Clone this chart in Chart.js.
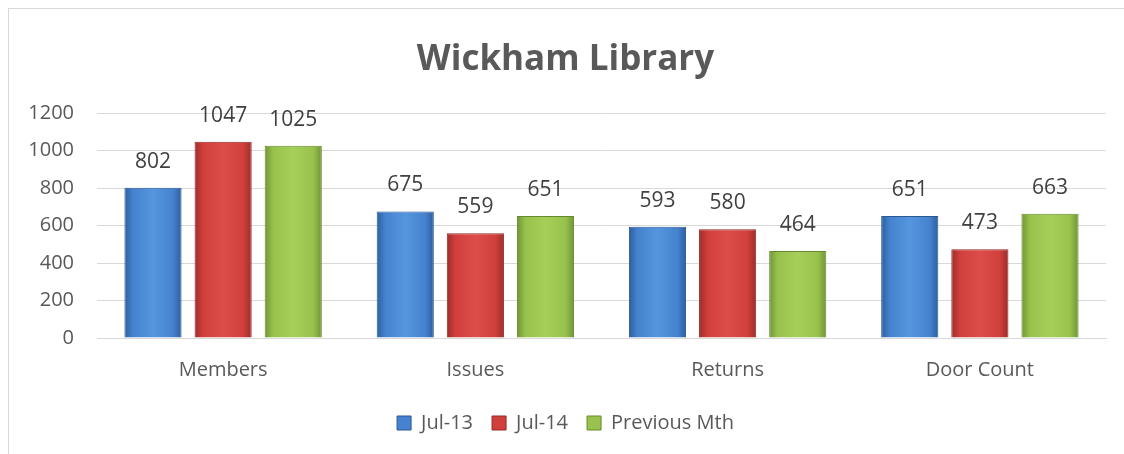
<!DOCTYPE html>
<html>
<head>
<meta charset="utf-8">
<script src="https://cdn.jsdelivr.net/npm/chart.js@4"></script>
<style>
  html, body { margin: 0; padding: 0; background: #fff; }
  #wrap { position: absolute; left: 0; top: 0; width: 1124px; height: 454px; }
  #frame { position: absolute; left: 8px; top: 8px; width: 1116px; height: 446px;
           border-left: 1px solid #d9d9d9; border-top: 1px solid #d9d9d9; }
  canvas { position: absolute; left: 0; top: 0; }
</style>
</head>
<body>
<div id="wrap">
  <div id="frame"></div>
  <canvas id="chart" width="1124" height="454"></canvas>
</div>
<script>
const categories = ['Members', 'Issues', 'Returns', 'Door Count'];
const jul13 = [802, 675, 593, 651];
const jul14 = [1047, 559, 580, 473];
const prevMth = [1025, 651, 464, 663];
const seriesNames = ['Jul-13', 'Jul-14', 'Previous Mth'];

const CAT_PCT = 0.834;
const BAR_PCT = 0.815;
const FONT = '"Open Sans", sans-serif';

const palette = [
    { edge: '#2c5f9e', mid: '#4582cf', light: '#5596de', border: '#2a5892' },
    { edge: '#9c2d2a', mid: '#d03f3b', light: '#dc4d49', border: '#922825' },
    { edge: '#6f9535', mid: '#98c24d', light: '#a6cf5a', border: '#658a2e' }
];

// horizontal shading, worked out from the x scale so each bar gets its own gradient
function barFill(ctx, i) {
    const chart = ctx.chart;
    const xs = chart.scales.x;
    if (!xs || !xs.width || ctx.dataIndex === undefined) return palette[i].mid;
    const slot = xs.width / categories.length * CAT_PCT / 3;
    const w = slot * BAR_PCT;
    const cx = xs.getPixelForValue(ctx.dataIndex) + (i - 1) * slot;
    const g = chart.ctx.createLinearGradient(cx - w / 2, 0, cx + w / 2, 0);
    g.addColorStop(0, palette[i].edge);
    g.addColorStop(0.15, palette[i].mid);
    g.addColorStop(0.5, palette[i].light);
    g.addColorStop(0.85, palette[i].mid);
    g.addColorStop(1, palette[i].edge);
    return g;
}

const valueLabels = {
    id: 'valueLabels',
    afterDatasetsDraw(chart) {
        const c = chart.ctx;
        c.save();
        c.font = '21px ' + FONT;
        c.fillStyle = '#404040';
        c.textAlign = 'center';
        c.textBaseline = 'middle';
        chart.data.datasets.forEach((ds, di) => {
            chart.getDatasetMeta(di).data.forEach((bar, j) => {
                c.fillText(ds.data[j], bar.x, bar.y - 26);
            });
        });
        c.restore();
    }
};

function makeSet(label, data, i) {
    return {
        label: label,
        data: data,
        backgroundColor: ctx => barFill(ctx, i),
        borderColor: palette[i].border,
        borderWidth: 1,
        categoryPercentage: CAT_PCT,
        barPercentage: BAR_PCT
    };
}

new Chart(document.getElementById('chart'), {
    type: 'bar',
    data: {
        labels: categories,
        datasets: [
            makeSet(seriesNames[0], jul13, 0),
            makeSet(seriesNames[1], jul14, 1),
            makeSet(seriesNames[2], prevMth, 2)
        ]
    },
    options: {
        responsive: false,
        animation: false,
        layout: { padding: { left: 25, right: 18, top: 39, bottom: 11 } },
        scales: {
            x: {
                grid: { display: false },
                border: { color: '#d9d9d9', width: 1 },
                ticks: { color: '#595959', font: { size: 20, family: FONT }, padding: 12 }
            },
            y: {
                min: 0, max: 1200,
                // fixed axis box so title and legend centre like the original
                afterFit(scale) { scale.width = 72; },
                ticks: {
                    stepSize: 200, color: '#595959', padding: 23,
                    font: { size: 20, family: FONT },
                    callback: v => String(v)
                },
                grid: { color: '#d9d9d9', drawTicks: false },
                border: { display: false }
            }
        },
        plugins: {
            title: {
                display: true,
                text: 'Wickham Library',
                color: '#595959',
                font: { size: 35, weight: 'bold', family: FONT },
                padding: { top: 0, bottom: 32 }
            },
            legend: {
                position: 'bottom',
                labels: {
                    color: '#595959',
                    font: { size: 20, family: FONT },
                    boxWidth: 14, boxHeight: 14, padding: 19,
                    generateLabels(chart) {
                        return chart.data.datasets.map((ds, i) => ({
                            text: ds.label,
                            fillStyle: palette[i].mid,
                            strokeStyle: palette[i].border,
                            lineWidth: 1,
                            fontColor: '#595959',
                            datasetIndex: i
                        }));
                    }
                }
            },
            tooltip: { enabled: false }
        }
    },
    plugins: [valueLabels]
});
</script>
</body>
</html>
